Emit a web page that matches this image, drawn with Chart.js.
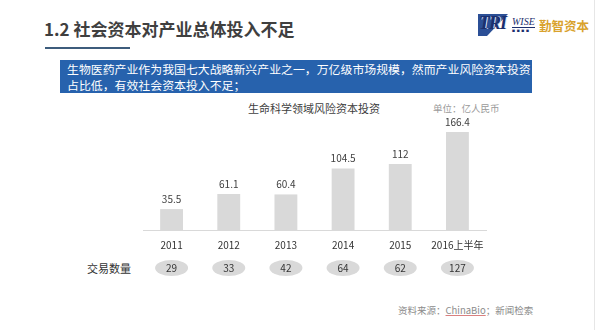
<!DOCTYPE html>
<html>
<head>
<meta charset="utf-8">
<script src="https://cdn.jsdelivr.net/npm/chart.js@4"></script>
<style>
  html, body { margin: 0; padding: 0; background: #fff; }
  body { width: 600px; height: 332px; position: relative; overflow: hidden;
         font-family: "Noto Sans CJK SC", "Noto Sans", sans-serif; }
  .abs { position: absolute; white-space: nowrap; }
  #title { left: 44px; top: 16px; font-size: 17px; font-weight: bold; color: #3f3f3f; }
  #titleLine { left: 45px; top: 47px; width: 85px; height: 2px; background: #3d5c7c; }
  #rightLine { left: 594px; top: 0; width: 1px; height: 330px; background: #e6e6e6; }
  #box { left: 60px; top: 60px; width: 472px; height: 33px; background: #2762ad; }
  #boxText { left: 67px; top: 61px; font-size: 11.9px; line-height: 15.5px; color: #fff; }
  #logo { left: 478px; top: 14px; height: 22px; }
  #logo .tri { position: absolute; left: 0; top: 0; width: 30px; height: 22px;
               background: #2b4f96; clip-path: polygon(0 0, 100% 0, 30% 100%, 0 100%); }
  #logo .tritext { position: absolute; left: 1px; top: -1px; font-family: "Liberation Serif", serif;
                   font-style: italic; font-weight: bold; font-size: 18px; color: #1c2f6e; letter-spacing: -1px;
                   text-shadow: 1px 0 0 #dfe6f2; }
  #logo .wise { position: absolute; left: 34px; top: 3px; font-family: "Liberation Serif", serif;
                font-style: italic; font-size: 10px; color: #1c2f6e; border-bottom: 1px solid #1c2f6e; line-height: 10px; }
  #logo .sub { position: absolute; left: 34px; top: 15px; font-size: 3px; color: #1c2f6e; letter-spacing: 0.5px; }
  #logo .cn { position: absolute; left: 61px; top: 2px; font-size: 12.5px; font-weight: bold; color: #d9a22d; }
  #chartTitle { left: 248px; top: 100px; font-size: 11px; color: #404040; }
  #unit { left: 433px; top: 101px; font-size: 9.5px; color: #9a9a9a; }
  #countLabel { left: 87px; top: 260px; font-size: 11px; color: #333; }
  #source { left: 398px; top: 303px; font-size: 9.5px; color: #8c8c8c; }
  #source u { text-decoration-color: #d98080; }
  canvas { position: absolute; left: 0; top: 0; }
</style>
</head>
<body>
<div class="abs" id="title">1.2 社会资本对产业总体投入不足</div>
<div class="abs" id="titleLine"></div>
<div class="abs" id="rightLine"></div>
<div class="abs" id="logo">
  <div class="tri"></div>
  <div class="tritext">TRI</div>
  <div class="wise">WISE</div>
  <div class="sub">&#9632; &#9632; &#9632; &#9632;</div>
  <div class="cn">勤智资本</div>
</div>
<div class="abs" id="box"></div>
<div class="abs" id="boxText">生物医药产业作为我国七大战略新兴产业之一，万亿级市场规模，然而产业风险资本投资<br>占比低，有效社会资本投入不足；</div>
<div class="abs" id="chartTitle">生命科学领域风险资本投资</div>
<div class="abs" id="unit">单位：亿人民币</div>
<div class="abs" id="countLabel">交易数量</div>
<div class="abs" id="source">资料来源：<u>ChinaBio</u>；新闻检索</div>

<canvas id="barChart" width="600" height="332"></canvas>

<script>
// 年份、投资额（亿人民币）、交易数量
const years = ['2011', '2012', '2013', '2014', '2015', '2016上半年'];
const investment = [35.5, 61.1, 60.4, 104.5, 112, 166.4];
const dealCounts = [29, 33, 42, 64, 62, 127];

// 柱顶数值
const valueLabels = {
    id: 'valueLabels',
    afterDatasetsDraw(chart) {
        const ctx = chart.ctx;
        const meta = chart.getDatasetMeta(0);
        ctx.save();
        ctx.font = '10px "Noto Sans CJK SC", sans-serif';
        ctx.fillStyle = '#404040';
        ctx.textAlign = 'center';
        ctx.textBaseline = 'middle';
        meta.data.forEach((bar, i) => {
            ctx.fillText(String(investment[i]), bar.x, bar.y - 10);
        });
        ctx.restore();
    }
};

// 交易数量椭圆
const dealBubbles = {
    id: 'dealBubbles',
    afterDraw(chart) {
        const ctx = chart.ctx;
        const xScale = chart.scales.x;
        const y = 268;
        ctx.save();
        ctx.font = '10px "Noto Sans CJK SC", sans-serif';
        ctx.textAlign = 'center';
        ctx.textBaseline = 'middle';
        dealCounts.forEach((n, i) => {
            const x = xScale.getPixelForValue(i);
            ctx.beginPath();
            ctx.ellipse(x, y, 16.5, 8, 0, 0, Math.PI * 2);
            ctx.fillStyle = '#d9d9d9';
            ctx.fill();
            ctx.fillStyle = '#333';
            ctx.fillText(String(n), x, y);
        });
        ctx.restore();
    }
};

const ctx = document.getElementById('barChart').getContext('2d');
new Chart(ctx, {
    type: 'bar',
    data: {
        labels: years,
        datasets: [{
            data: investment,
            backgroundColor: '#d9d9d9',
            barPercentage: 0.4,
            categoryPercentage: 1.0
        }]
    },
    options: {
        responsive: false,
        maintainAspectRatio: false,
        animation: false,
        layout: { padding: { left: 143, right: 114, top: 124, bottom: 72 } },
        plugins: {
            legend: { display: false },
            tooltip: { enabled: false }
        },
        scales: {
            x: {
                grid: { display: false, drawTicks: false },
                border: { display: true, color: '#d9d9d9', width: 1 },
                ticks: {
                    color: '#333',
                    padding: 9,
                    font: { size: 10, family: '"Noto Sans CJK SC", sans-serif' },
                    maxRotation: 0
                },
                afterFit(scale) { scale.height = 30; }
            },
            y: {
                display: false,
                min: 0,
                max: 180
            }
        }
    },
    plugins: [valueLabels, dealBubbles]
});
</script>
</body>
</html>
